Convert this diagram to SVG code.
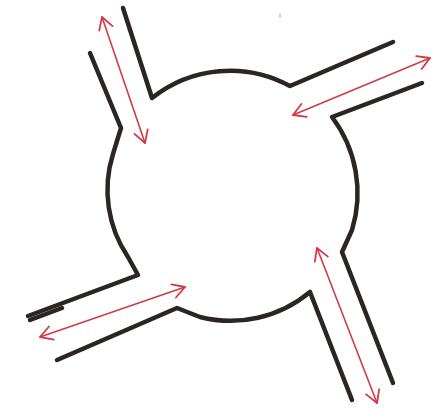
<svg xmlns="http://www.w3.org/2000/svg" width="435" height="415" viewBox="0 0 435 415">
<style>
.ink{fill:none;stroke:#2b2624;stroke-width:4.5;stroke-linecap:round;stroke-linejoin:round}
.arr{fill:none;stroke:#d23a46;stroke-width:1.6;stroke-linecap:round;marker-start:url(#h);marker-end:url(#h)}
</style>
<defs>
<marker id="h" markerUnits="userSpaceOnUse" markerWidth="30" markerHeight="30" viewBox="-15 -15 30 30" refX="0" refY="0" orient="auto-start-reverse">
<path d="M-12,-7 L0,0 L-12,7" fill="none" stroke="#d23a46" stroke-width="1.8" stroke-linecap="round" stroke-linejoin="round"/>
</marker>
</defs>
<rect width="435" height="415" fill="#ffffff"/>
<g id="body">
<path class="ink" d="M123,8 L152,98 A125,125 0 0 1 290,86 L393,42"/>
<path class="ink" d="M422,83 L332,117 A126,126 0 0 1 352,230 L342,252 L393,383"/>
<path class="ink" d="M57,360 L177,308 L200,317 A124,124 0 0 0 310,292 L352,400"/>
<path class="ink" d="M28,316 L138,275 L128,257 A120,120 0 0 1 113,154 L121,128 L90,53"/>
<path class="ink" d="M30,320 L62,308" stroke-width="4"/>
</g>
<g id="connectors">
<line class="arr" x1="102" y1="17" x2="145" y2="143"/>
<line class="arr" x1="293" y1="115" x2="430" y2="58"/>
<line class="arr" x1="40" y1="337" x2="185" y2="287"/>
<line class="arr" x1="317" y1="248" x2="377" y2="403"/>
</g>
<line x1="280" y1="13" x2="280" y2="18" stroke="#c8c8c8" stroke-width="1.5"/>
</svg>
